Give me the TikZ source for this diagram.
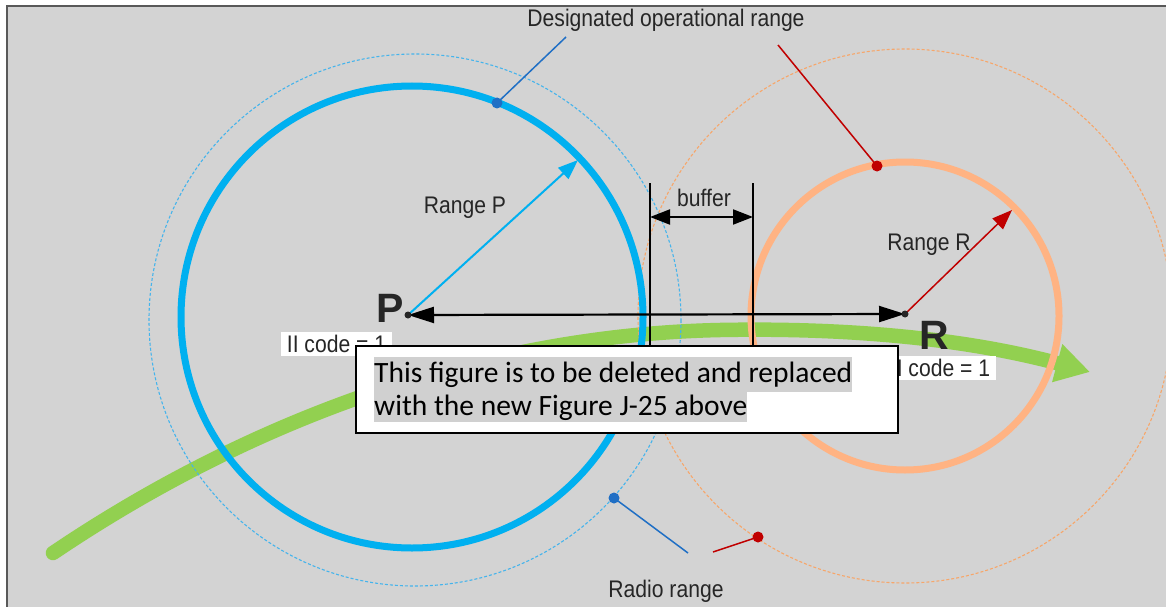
\documentclass[tikz,border=0pt]{standalone}
\usepackage{fontspec}
\usetikzlibrary{arrows.meta}
\newfontfamily\labfont{Liberation Sans}[FakeStretch=0.88]
\newfontfamily\boldfont{Liberation Sans}
\newfontfamily\boxfont{Carlito}
\definecolor{bgray}{HTML}{D3D3D3}
\definecolor{frame}{HTML}{595959}
\definecolor{cyanb}{HTML}{00B0F0}
\definecolor{dashb}{HTML}{45B4EC}
\definecolor{orng}{HTML}{FFB383}
\definecolor{dasho}{HTML}{F7A66A}
\definecolor{grn}{HTML}{92D050}
\definecolor{dotb}{HTML}{1F6FC5}
\definecolor{redd}{HTML}{C00000}
\definecolor{txt}{HTML}{262626}
\definecolor{hl}{HTML}{D0D0D0}
\begin{document}
\begin{tikzpicture}[x=1pt,y=-1pt,
  lbl/.style={font=\labfont\fontsize{24}{28}\selectfont, text=txt, inner sep=0pt},
  big/.style={font=\boldfont\bfseries\fontsize{41}{44}\selectfont, text=txt, inner sep=0pt},
  codebox/.style={fill=white, minimum width=111pt, minimum height=24pt, inner sep=0pt, font=\labfont\fontsize{24}{28}\selectfont, text=txt},
  hlline/.style={fill=hl, inner xsep=0pt, inner ysep=0pt, anchor=west, font=\boxfont\fontsize{29.5}{34}\selectfont, text=black},
  thickc/.style={line width=7pt},
  dashc/.style={line width=1.1pt, dash pattern=on 3pt off 2pt},
  leader/.style={line width=1.5pt},
  dot/.style={inner sep=0pt, minimum size=11pt, circle}
]
\useasboundingbox (0,0) rectangle (1166,607);
% background and frame
\fill[bgray] (7,6) rectangle (1166,607);
\draw[frame, line width=2pt] (7,607) -- (7,6.5) -- (1166,6.5);

% centres
\coordinate (cP) at (412,317);
\coordinate (cPd) at (415,320);
\coordinate (cR) at (905,316);
\coordinate (P) at (408,315);
\coordinate (R) at (905,314);

% green track
\coordinate (g0) at (53,553);
\coordinate (g1) at (720,330);
\coordinate (g2) at (1090,372);
\draw[grn, line width=14.5pt, line cap=round, -{Triangle[length=34pt,width=37pt]}]
  (g0) .. controls (250,420) and (480,335) .. (g1)
       .. controls (880,327) and (990,345) .. (g2);

% circles
\draw[dashb, dashc] (cPd) circle (266);
\draw[dasho, dashc] (cR) circle (267);
\draw[cyanb, thickc] (cP) circle (231);
\draw[orng, thickc] (cR) circle (154);

% buffer lines
\coordinate (b1t) at (650,183);
\coordinate (b1b) at (650,370);
\coordinate (b2t) at (753,183);
\coordinate (b2b) at (753,370);
\draw[black, line width=1.2pt] (b1t) -- (b1b);
\draw[black, line width=1.2pt] (b2t) -- (b2b);
\coordinate (ba) at (650,217);
\coordinate (bb) at (753,217);
\draw[black, line width=2pt, {Triangle[length=20pt,width=15pt]}-{Triangle[length=20pt,width=15pt]}] (ba) -- (bb);
\node[lbl] (buf) at (704,198) {buffer};

% range arrows
\coordinate (rpt) at (578,160);
\coordinate (rrt) at (1012,210);
\draw[cyanb, line width=2pt, -{Triangle[length=20pt,width=15pt]}] (P) -- (rpt);
\draw[redd, line width=1.5pt, -{Triangle[length=20pt,width=15pt]}] (R) -- (rrt);
\node[lbl] (rp) at (465,208) {Range P};
\node[lbl] (rr) at (929,245) {Range R};

% P-R arrow
\draw[black, line width=2.2pt, {Triangle[length=26pt,width=16pt]}-{Triangle[length=26pt,width=16pt]}] (P) -- (R);
\fill[black!85] (P) circle (3.5);
\fill[black!85] (R) circle (3.5);

\node[big] (lP) at (390,308) {P};
\node[big] (lR) at (934,335) {R};

% code labels
\node[codebox] (codeP) at (336.5,343.5) {II code = 1};
\node[codebox] (codeR) at (940.5,367.5) {II code = 1};

% leaders and dots
\node[dot, fill=dotb] (d1) at (497,103) {};
\node[dot, fill=redd] (d2) at (877,166) {};
\node[dot, fill=dotb] (d3) at (614,498) {};
\node[dot, fill=redd] (d4) at (758,537) {};
\coordinate (e1) at (566,37);
\coordinate (e2) at (778,45);
\coordinate (e3) at (688,553);
\coordinate (e4) at (713,552);
\draw[dotb, leader] (d1.center) -- (e1);
\draw[redd, leader] (d2.center) -- (e2);
\draw[dotb, leader] (d3.center) -- (e3);
\draw[redd, leader] (d4.center) -- (e4);
\node[lbl] (desig) at (666,20) {Designated operational range};
\node[lbl] (radio) at (666,591) {Radio range};

% notice box
\node[draw=black, line width=2pt, fill=white, minimum width=542pt, minimum height=87pt, anchor=north west, inner sep=0pt] (note) at (355,345) {};
\node[hlline, minimum height=35pt] (l1) at (374,374.5) {This figure is to be deleted and replaced\ };
\node[hlline, minimum height=30pt, text depth=4pt] (l2) at (374,407) {with the new Figure J-25 above};
\end{tikzpicture}
\end{document}
